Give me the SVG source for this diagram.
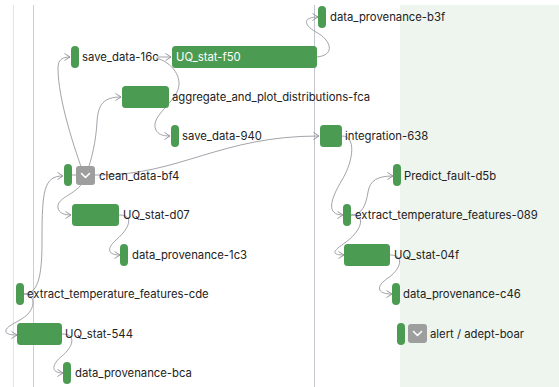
<svg xmlns="http://www.w3.org/2000/svg" width="559" height="387" viewBox="0 0 559 387">
  <defs>
    <style>
      .lane { stroke-width: 1; fill: none; }
      .node { fill: #4c9b53; }
      .toggle { fill: #9e9e9e; }
      .chev { fill: none; stroke: #ffffff; stroke-width: 1.6; stroke-linecap: round; stroke-linejoin: round; }
      .label { font-family: Inter, "Liberation Sans", sans-serif; font-size: 11.3px; fill: #222222; }
      .label.inside { fill: #ffffff; }
      .link { fill: none; stroke: #8c8c94; stroke-width: 0.8; marker-end: url(#arrow); }
    </style>
    <marker id="arrow" markerUnits="userSpaceOnUse" markerWidth="9" markerHeight="10" refX="6" refY="4" orient="auto">
      <path d="M0.5,0.5 L6,4 L0.5,7.5" fill="none" stroke="#8c8c94" stroke-width="0.9"/>
    </marker>
  </defs>

  <!-- background panel and lane rules -->
  <rect x="400" y="5" width="159" height="382" fill="#edf5ee"/>
  <line class="lane" x1="13.5" y1="5" x2="13.5" y2="387" stroke="#e4e4e4"/>
  <line class="lane" x1="33.5" y1="5" x2="33.5" y2="387" stroke="#cdcdd5"/>
  <line class="lane" x1="314.5" y1="5" x2="314.5" y2="387" stroke="#c4c4ce"/>

  <!-- connectors -->
  <g id="connectors">
    <path class="link" d="M157,57 L171,57"/>
    <path class="link" d="M156,58 C172,62 184,78 177,92 C170,106 150,118 156,130 C158,134 162,136 170,136"/>
    <path class="link" d="M317,57 C336,55 331,40 316,32 C302,24 304,17 318,17"/>
    <path class="link" d="M84,175 C75,150 58,100 58,68 C58,60 62,57 70,57"/>
    <path class="link" d="M86,174 C92,160 96,140 97,122 C98,104 104,97 121,97"/>
    <path class="link" d="M72,175 L100,175 C180,175 220,136 319,136"/>
    <path class="link" d="M85,177 C80,195 56,196 58,208 C59,213 64,215 71,215"/>
    <path class="link" d="M119,215 C136,215 128,230 116,240 C106,249 108,255 120,255"/>
    <path class="link" d="M24,294 C40,294 42,270 42,240 C42,190 44,176 63,176"/>
    <path class="link" d="M24,294 C34,294 36,305 28,314 C20,322 4,326 6,332 C7,334 10,335 17,335"/>
    <path class="link" d="M62,334 C78,334 72,348 62,356 C52,364 50,373 63,373"/>
    <path class="link" d="M342,136 C356,136 354,160 342,180 C330,200 326,215 343,215"/>
    <path class="link" d="M351,215 C362,215 366,205 368,192 C370,180 378,176 393,176"/>
    <path class="link" d="M351,215 C368,215 360,232 346,242 C336,249 328,255 344,255"/>
    <path class="link" d="M390,255 C406,255 400,270 388,278 C376,286 376,294 392,294"/>
  </g>

  <!-- nodes -->
  <g id="data_provenance-b3f">
    <rect class="node" x="318" y="6" width="8" height="22" rx="4"/>
    <text class="label" x="330" y="21">data_provenance-b3f</text>
  </g>
  <g id="save_data-16c">
    <rect class="node" x="71" y="46" width="8" height="22" rx="4"/>
    <text class="label" x="82" y="61">save_data-16c</text>
  </g>
  <g id="UQ_stat-f50">
    <rect class="node" x="172" y="46" width="145" height="22" rx="3.5"/>
    <text class="label inside" x="176" y="61">UQ_stat-f50</text>
  </g>
  <g id="aggregate_and_plot_distributions-fca">
    <rect class="node" x="122" y="86" width="47" height="22" rx="3.5"/>
    <text class="label" x="172" y="101">aggregate_and_plot_distributions-fca</text>
  </g>
  <g id="save_data-940">
    <rect class="node" x="171" y="125" width="8" height="22" rx="4"/>
    <text class="label" x="182" y="140">save_data-940</text>
  </g>
  <g id="integration-638">
    <rect class="node" x="320" y="125" width="22" height="22" rx="3.5"/>
    <text class="label" x="345" y="140">integration-638</text>
  </g>
  <g id="clean_data-bf4">
    <rect class="node" x="64" y="164" width="8" height="22" rx="4"/>
    <rect class="toggle" x="76" y="166" width="19" height="19" rx="3"/>
    <path class="chev" d="M81.5,173.5 L85.5,177.5 L89.5,173.5"/>
    <text class="label" x="99" y="180">clean_data-bf4</text>
  </g>
  <g id="Predict_fault-d5b">
    <rect class="node" x="393" y="164" width="8" height="22" rx="4"/>
    <text class="label" x="404" y="180">Predict_fault-d5b</text>
  </g>
  <g id="UQ_stat-d07">
    <rect class="node" x="72" y="204" width="47" height="22" rx="3.5"/>
    <text class="label" x="123" y="219">UQ_stat-d07</text>
  </g>
  <g id="extract_temperature_features-089">
    <rect class="node" x="343" y="204" width="8" height="22" rx="4"/>
    <text class="label" x="355" y="219">extract_temperature_features-089</text>
  </g>
  <g id="data_provenance-1c3">
    <rect class="node" x="120" y="244" width="8" height="22" rx="4"/>
    <text class="label" x="132" y="259">data_provenance-1c3</text>
  </g>
  <g id="UQ_stat-04f">
    <rect class="node" x="344" y="244" width="46" height="22" rx="3.5"/>
    <text class="label" x="394" y="259">UQ_stat-04f</text>
  </g>
  <g id="extract_temperature_features-cde">
    <rect class="node" x="16" y="283" width="8" height="22" rx="4"/>
    <text class="label" x="27" y="298">extract_temperature_features-cde</text>
  </g>
  <g id="data_provenance-c46">
    <rect class="node" x="392" y="283" width="8" height="22" rx="4"/>
    <text class="label" x="403" y="298">data_provenance-c46</text>
  </g>
  <g id="UQ_stat-544">
    <rect class="node" x="17" y="323" width="45" height="22" rx="3.5"/>
    <text class="label" x="65" y="338">UQ_stat-544</text>
  </g>
  <g id="alert-adept-boar">
    <rect class="node" x="397" y="323" width="8" height="22" rx="4"/>
    <rect class="toggle" x="408" y="324" width="19" height="19" rx="3"/>
    <path class="chev" d="M413.5,331.5 L417.5,335.5 L421.5,331.5"/>
    <text class="label" x="430" y="338">alert / adept-boar</text>
  </g>
  <g id="data_provenance-bca">
    <rect class="node" x="63" y="362" width="8" height="22" rx="4"/>
    <text class="label" x="75" y="377">data_provenance-bca</text>
  </g>
</svg>
